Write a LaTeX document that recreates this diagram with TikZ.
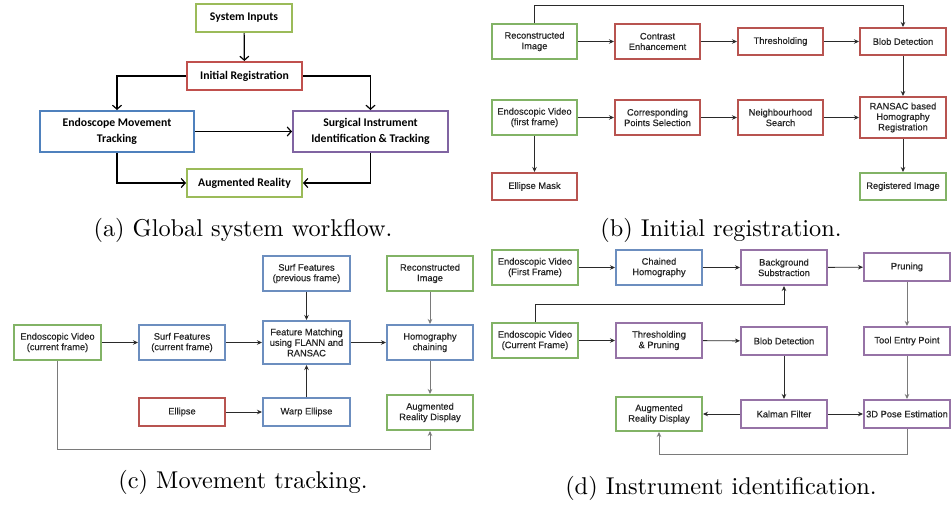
\documentclass[tikz,border=0pt]{standalone}
\usepackage{fontspec}
\newfontfamily\calfont{Carlito}
\newfontfamily\arialfont[FakeBold=0.5]{Liberation Sans}
\newfontfamily\capfont{lmroman10-regular.otf}
\usetikzlibrary{arrows.meta}
\definecolor{agreen}{HTML}{9BBB59}
\definecolor{ared}{HTML}{C0504D}
\definecolor{ablue}{HTML}{4F81BD}
\definecolor{apurple}{HTML}{8064A2}
\definecolor{dgreen}{HTML}{82B366}
\definecolor{dred}{HTML}{B85450}
\definecolor{dblue}{HTML}{6C8EBF}
\definecolor{dpurple}{HTML}{9673A6}
\definecolor{txt}{HTML}{262626}
\definecolor{lnk}{HTML}{2A2A2A}
\definecolor{lnkg}{HTML}{7A7A7A}
\tikzset{
  abox/.style={draw, line width=2pt, fill=white, inner sep=1pt, align=center,
    font=\calfont\bfseries\fontsize{11.7}{16.5}\selectfont, text=black},
  dbox/.style={draw, line width=2pt, fill=white, inner sep=1pt, align=center,
    font=\arialfont\fontsize{9.3}{10.5}\selectfont, text=txt},
  sz/.style 2 args={minimum width=#1, minimum height=#2},
  aarr/.style={draw=black, line width=1.2pt, -{Straight Barb[length=4pt,width=9pt,line width=1.2pt]}},
  darr/.style={draw=lnk, line width=0.9pt, -{Stealth[length=5pt,width=4.5pt]}},
  garr/.style={draw=lnkg, line width=0.9pt, -{Stealth[length=5pt,width=4.5pt]}},
  captxt/.style={font=\capfont\fontsize{24.3}{28}\selectfont},
}
\begin{document}
\begin{tikzpicture}[x=1pt,y=-1pt]
\useasboundingbox (0,0) rectangle (951,507);
\fill[white] (0,0) rectangle (951,507);
% ---------------- (a) ----------------
\node[abox, draw=agreen, sz={96}{28}] (sysin) at (244,18) {System Inputs};
\node[abox, draw=ared, sz={115}{28}] (initreg) at (244.5,76) {Initial Registration};
\node[abox, draw=ablue, sz={154}{41}] (emt) at (117,131.5) {Endoscope Movement\\Tracking};
\node[abox, draw=apurple, sz={155}{41}] (sit) at (370.5,131.5) {Surgical Instrument\\Identification \& Tracking};
\node[abox, draw=agreen, sz={115}{28}] (aar) at (244.5,183) {Augmented Reality};
\draw[aarr] (sysin) -- (initreg);
\draw[aarr] (initreg.west) -| (emt.north);
\draw[aarr] (initreg.east) -| (sit.north);
\draw[aarr] (emt) -- (sit);
\draw[aarr] (emt.south) |- (aar.west);
\draw[aarr] (sit.south) |- (aar.east);
\node[captxt] (capa) at (243,230) {(a) Global system workflow.};
% ---------------- (b) ----------------
\node[dbox, draw=dgreen, sz={85}{35}] (brecon) at (534.5,41.5) {Reconstructed\\Image};
\node[dbox, draw=dred, sz={85}{35}] (bcontrast) at (657.5,41.5) {Contrast\\Enhancement};
\node[dbox, draw=dred, sz={85}{27}] (bthresh) at (780.5,41.5) {Thresholding};
\node[dbox, draw=dred, sz={86}{27}] (bblob) at (903,41.5) {Blob Detection};
\node[dbox, draw=dgreen, sz={85}{35}] (bendo) at (534.5,117.5) {Endoscopic Video\\(first frame)};
\node[dbox, draw=dred, sz={85}{35}] (bcorr) at (657.5,117.5) {Corresponding\\Points Selection};
\node[dbox, draw=dred, sz={85}{35}] (bneigh) at (780.5,117.5) {Neighbourhood\\Search};
\node[dbox, draw=dred, sz={86}{41}] (bransac) at (903,117.5) {RANSAC based\\Homography\\Registration};
\node[dbox, draw=dred, sz={85}{27}] (bell) at (534.5,186.5) {Ellipse Mask};
\node[dbox, draw=dgreen, sz={86}{27}] (breg) at (903,186.5) {Registered Image};
\coordinate (btop) at (903,5);
\draw[darr] (brecon.north) |- (btop) -- (bblob.north);
\draw[darr] (brecon) -- (bcontrast);
\draw[darr] (bcontrast) -- (bthresh);
\draw[darr] (bthresh) -- (bblob);
\draw[darr] (bblob) -- (bransac);
\draw[darr] (bendo) -- (bcorr);
\draw[darr] (bcorr) -- (bneigh);
\draw[darr] (bneigh) -- (bransac);
\draw[darr] (bendo) -- (bell);
\draw[darr] (bransac) -- (breg);
\node[captxt] (capb) at (721,230) {(b) Initial registration.};
% ---------------- (c) ----------------
\node[dbox, draw=dgreen, sz={87}{35}] (cendo) at (57.5,342.5) {Endoscopic Video\\(current frame)};
\node[dbox, draw=dblue, sz={86}{35}] (csurfc) at (182,342.5) {Surf Features\\(current frame)};
\node[dbox, draw=dblue, sz={87}{35}] (csurfp) at (306.5,273.5) {Surf Features\\(previous frame)};
\node[dbox, draw=dblue, sz={87}{43}] (cfm) at (306.5,342.5) {Feature Matching\\using FLANN and\\RANSAC};
\node[dbox, draw=dgreen, sz={86}{35}] (crecon) at (430,273.5) {Reconstructed\\Image};
\node[dbox, draw=dblue, sz={86}{35}] (chomo) at (430,342.5) {Homography\\chaining};
\node[dbox, draw=dred, sz={86}{28}] (cell) at (182,412) {Ellipse};
\node[dbox, draw=dblue, sz={87}{28}] (cwarp) at (306.5,412) {Warp Ellipse};
\node[dbox, draw=dgreen, sz={86}{35}] (car) at (430,412.5) {Augmented\\Reality Display};
\coordinate (cbot) at (57.5,449);
\draw[darr] (cendo) -- (csurfc);
\draw[darr] (csurfc) -- (cfm);
\draw[darr] (cfm) -- (chomo);
\draw[darr] (csurfp) -- (cfm);
\draw[darr] (cwarp) -- (cfm);
\draw[darr] (cell) -- (cwarp);
\draw[garr] (crecon) -- (chomo);
\draw[garr] (chomo) -- (car);
\draw[garr] (cendo.south) -- (cbot) -| (car.south);
\node[captxt] (capc) at (243,482) {(c) Movement tracking.};
% ---------------- (d) ----------------
\node[dbox, draw=dgreen, sz={86}{35}] (dendoa) at (535,267.5) {Endoscopic Video\\(First Frame)};
\node[dbox, draw=dblue, sz={86}{35}] (dchain) at (659,267.5) {Chained\\Homography};
\node[dbox, draw=dpurple, sz={86}{35}] (dbg) at (784,267.5) {Background\\Substraction};
\node[dbox, draw=dpurple, sz={86}{28}] (dprune) at (907,267) {Pruning};
\node[dbox, draw=dgreen, sz={86}{35}] (dendob) at (535,340.5) {Endoscopic Video\\(Current Frame)};
\node[dbox, draw=dpurple, sz={86}{35}] (dthresh) at (659,340.5) {Thresholding\\\& Pruning};
\node[dbox, draw=dpurple, sz={86}{28}] (dblob) at (784,341) {Blob Detection};
\node[dbox, draw=dpurple, sz={86}{28}] (dtool) at (907,341) {Tool Entry Point};
\node[dbox, draw=dgreen, sz={86}{34}] (dar) at (659,414) {Augmented\\Reality Display};
\node[dbox, draw=dpurple, sz={86}{28}] (dkal) at (784,414) {Kalman Filter};
\node[dbox, draw=dpurple, sz={86}{28}] (dpose) at (907,414) {3D Pose Estimation};
\coordinate (dmid) at (535,304);
\coordinate (dbot) at (907,454);
\draw[darr] (dendoa) -- (dchain);
\draw[darr] (dchain) -- (dbg);
\draw[darr] (dbg) -- (dprune);
\draw[darr] (dendob.north) -- (dmid) -| (dbg.south);
\draw[darr] (dendob) -- (dthresh);
\draw[darr] (dthresh) -- (dblob);
\draw[garr] (dprune) -- (dtool);
\draw[darr] (dblob) -- (dkal);
\draw[garr] (dtool) -- (dpose);
\draw[darr] (dkal) -- (dar);
\draw[darr] (dkal) -- (dpose);
\draw[garr] (dpose.south) -- (dbot) -| (dar.south);
\node[captxt] (capd) at (721,488) {(d) Instrument identification.};
\end{tikzpicture}
\end{document}
